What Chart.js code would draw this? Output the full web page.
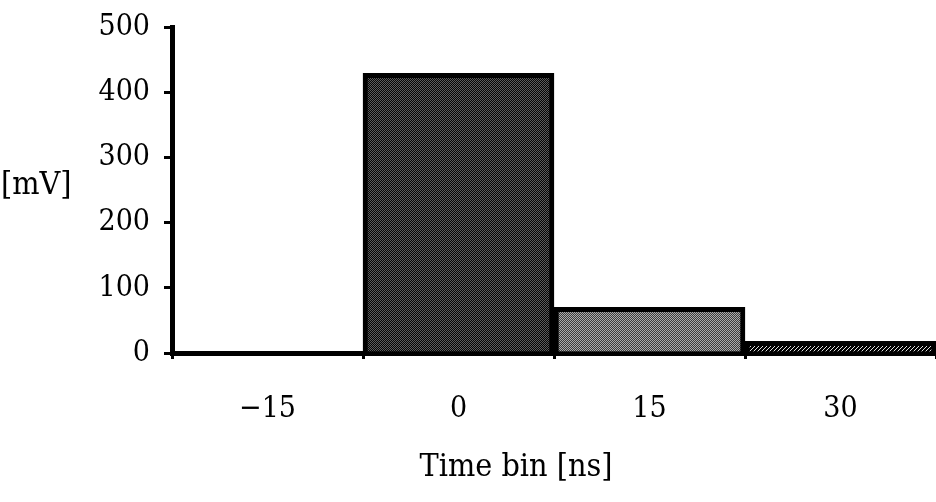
<!DOCTYPE html>
<html>
<head>
<meta charset="utf-8">
<script src="https://cdn.jsdelivr.net/npm/chart.js@4/dist/chart.umd.min.js"></script>
<style>
  html, body { margin: 0; padding: 0; background: #fff; }
  #wrap { width: 936px; height: 502px; }
</style>
</head>
<body>
<div id="wrap"><canvas id="grafico"></canvas></div>
<script>
// Dados
const bins = ['\u221215', '0', '15', '30'];
const valores = [0, 429, 70, 18];
const yTicks = [0, 100, 200, 300, 400, 500];
const rotuloX = 'Time bin [ns]';
const rotuloY = '[mV]';

const fonte = '"DejaVu Serif Condensed", "Liberation Serif", serif';

// Util: textura pontilhada (imita o retícula da figura impressa)
function textura(corA, corB, tipo) {
  const c = document.createElement('canvas');
  c.width = 4; c.height = 4;
  const g = c.getContext('2d');
  g.fillStyle = corA;
  g.fillRect(0, 0, 4, 4);
  g.fillStyle = corB;
  for (let i = 0; i < 4; i++) {
    for (let j = 0; j < 4; j++) {
      const marca = tipo === 'hachura' ? (i + j) % 4 === 0 : (i + j) % 2 === 0;
      if (marca) g.fillRect(i, j, 1, 1);
    }
  }
  return g.createPattern(c, 'repeat');
}

// Rótulos dos eixos desenhados à mão (posição livre)
const rotulos = {
  id: 'rotulos',
  afterDraw(chart) {
    const ctx = chart.ctx;
    ctx.save();
    ctx.fillStyle = '#000';
    ctx.font = '32px ' + fonte;
    ctx.textAlign = 'left';
    ctx.textBaseline = 'middle';
    ctx.fillText(rotuloY, 1, 186);
    ctx.textAlign = 'center';
    ctx.fillText(rotuloX, 516, 468);
    ctx.restore();
  }
};

const cores = [
  '#333333',
  textura('#050505', '#5c5c5c', 'xadrez'),
  textura('#3c3c3c', '#ababab', 'xadrez'),
  textura('#000000', '#e0e0e0', 'hachura')
];

const ctx = document.getElementById('grafico').getContext('2d');
new Chart(ctx, {
  type: 'bar',
  data: {
    labels: bins,
    datasets: [{
      data: valores,
      backgroundColor: cores,
      borderColor: '#000',
      borderWidth: 5,
      barPercentage: 1,
      categoryPercentage: 1
    }]
  },
  options: {
    responsive: true,
    maintainAspectRatio: false,
    animation: false,
    layout: { padding: { top: 27, right: 0, left: 0, bottom: 0 } },
    plugins: { legend: { display: false }, tooltip: { enabled: false } },
    scales: {
      x: {
        afterFit: (eixo) => { eixo.height = 149; eixo.paddingLeft = 0; eixo.paddingRight = 0; },
        grid: { drawOnChartArea: false, color: '#000', lineWidth: 3, tickLength: 6, offset: true },
        border: { color: '#000', width: 5 },
        ticks: { color: '#000', font: { family: fonte, size: 30 }, padding: 32 }
      },
      y: {
        min: 0,
        max: 500,
        afterFit: (eixo) => { eixo.width = 172; eixo.paddingTop = 0; eixo.paddingBottom = 0; },
        afterBuildTicks: (eixo) => { eixo.ticks = yTicks.map((v) => ({ value: v })); },
        grid: { drawOnChartArea: false, color: '#000', lineWidth: 3, tickLength: 8 },
        border: { color: '#000', width: 5 },
        ticks: { color: '#000', font: { family: fonte, size: 30 }, padding: 14 }
      }
    }
  },
  plugins: [rotulos]
});
</script>
</body>
</html>
